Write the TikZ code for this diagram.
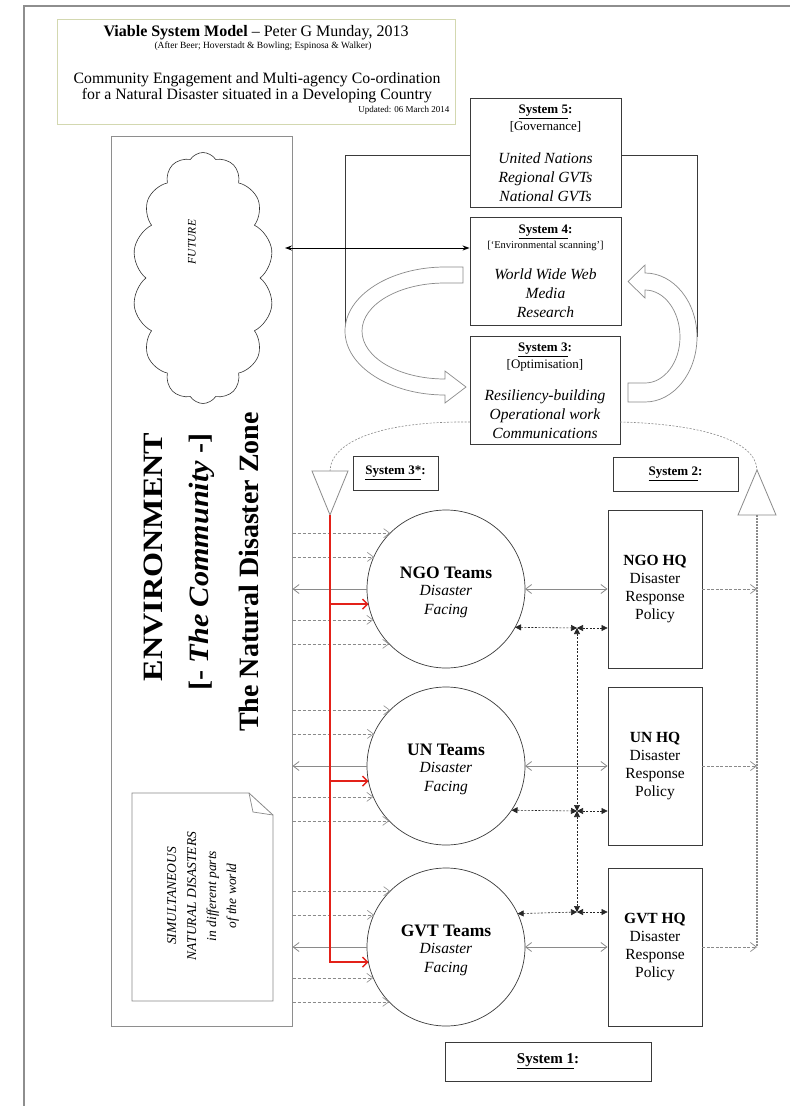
\documentclass[tikz,border=0pt]{standalone}
\usepackage{fontspec}
\setmainfont{Liberation Serif}
\usetikzlibrary{arrows.meta,shapes.symbols,calc}
\definecolor{framegray}{HTML}{8E8E8E}
\definecolor{titleedge}{HTML}{D3D8B0}
\definecolor{linegray}{HTML}{8A8A8A}
\definecolor{boxedge}{HTML}{3A3A3A}
\definecolor{flowred}{HTML}{E32119}
\newcommand{\fsz}[2]{\fontsize{#1}{#2}\selectfont}
\begin{document}
\begin{tikzpicture}[x=1pt,y=-1pt,
  >={Straight Barb[length=6pt,width=9pt]},
  sysbox/.style={draw=boxedge, line width=0.9pt, inner sep=0pt},
  hqbox/.style={draw=boxedge, line width=0.9pt, inner sep=0pt, minimum width=94pt, minimum height=158pt, align=center, font=\fsz{15.5}{18.3}},
  teams/.style={circle, draw=boxedge, line width=0.7pt, minimum size=158pt, inner sep=0pt, outer sep=0pt},
  teamname/.style={font=\fsz{17.5}{19}\bfseries},
  teamrole/.style={align=center, font=\fsz{15.5}{19}\itshape},
  hdr/.style={font=\fsz{13}{15}\bfseries},
  sub/.style={font=\fsz{13}{15}},
  lst/.style={align=center, font=\fsz{15.5}{19}\itshape},
  feed/.style={draw=linegray, line width=0.6pt, dash pattern=on 3pt off 2pt, ->},
  back/.style={draw=linegray, line width=0.8pt, ->},
  twoway/.style={draw=linegray, line width=0.8pt, <->},
  coordln/.style={draw=black!85, line width=0.6pt, dash pattern=on 2pt off 1.5pt,
    {Triangle[length=6pt,width=6pt]}-{Triangle[length=6pt,width=6pt]}},
  audit/.style={draw=flowred, line width=1.4pt},
  auditarr/.style={audit, -{Straight Barb[length=5pt,width=10pt]}},
  report/.style={draw=linegray, line width=0.7pt, dash pattern=on 3pt off 1.5pt, ->},
  monitor/.style={draw=linegray, line width=1.4pt, dash pattern=on 2pt off 1pt},
  arcline/.style={draw=linegray, line width=0.6pt, dash pattern=on 2pt off 1.5pt},
  blockarrow/.style={draw=linegray, line width=0.7pt, fill=white},
  tri/.style={draw=linegray, line width=0.8pt, fill=white},
  link/.style={draw=boxedge, line width=0.8pt}
]
\fill[white] (0,0) rectangle (790,1106);
\useasboundingbox (0,0) rectangle (790,1106);

% page frame
\draw[framegray, line width=1.2pt] (24,1106) -- (24,6) -- (790,6);

% title block
\node[draw=titleedge, line width=1pt, minimum width=398pt, minimum height=105pt, inner sep=0pt] (titlebox) at (256,71.5) {};
\node (t1) at (256,33) {\fsz{16}{18}\textbf{Viable System Model} – Peter G Munday, 2013};
\node (t2) at (263,46) {\fsz{9.5}{11}(After Beer; Hoverstadt \& Bowling; Espinosa \& Walker)};
\node (t3) at (257,80) {\fsz{15.8}{17}Community Engagement and Multi-agency Co-ordination};
\node (t4) at (257,96) {\fsz{15.8}{17}for a Natural Disaster situated in a Developing Country};
\node[anchor=east] (t5) at (453,110) {\fsz{9}{10}Updated: 06 March 2014};

% environment
\node[draw=framegray, line width=1pt, minimum width=181pt, minimum height=890pt, inner sep=0pt] (env) at (201.5,581) {};
\node[cloud, cloud puffs=14, cloud puff arc=115, draw=black!80, line width=0.6pt, minimum width=141pt, minimum height=251pt, inner sep=0pt] (cloud) at (203,278) {};
\node[rotate=90] (future) at (192,242) {\fsz{11.5}{13}\itshape FUTURE};
\node[rotate=90] (envname) at (153,557) {\fsz{28}{30}\bfseries\scalebox{1.15}[1]{ENVIRONMENT}};
\node[rotate=90] (community) at (202,562) {\fsz{28}{30}\bfseries\scalebox{1.08}[1]{[- \textit{The Community} -]}};
\node[rotate=90] (zone) at (249,572) {\fsz{28}{30}\bfseries The Natural Disaster Zone};

% note: simultaneous disasters
\draw[draw=linegray, line width=0.8pt, fill=white] (132,793) -- (249,793) -- (273,815) -- (273,1001) -- (132,1001) -- cycle;
\draw[draw=linegray, line width=0.7pt] (249,793) -- (253,812) -- (273,815);
\node[rotate=90, align=center, font=\fsz{13.5}{20}\itshape] (note) at (203,896) {SIMULTANEOUS\\NATURAL DISASTERS\\in different parts\\of the world};

% systems 5, 4, 3
\node[sysbox, minimum width=151pt, minimum height=109pt] (s5) at (545.5,152.5) {};
\node[hdr] (s5h) at (545.5,112) {\underline{System 5}:};
\node[sub] (s5s) at (545.5,127) {[Governance]};
\node[lst] (s5t) at (545.5,177) {United Nations\\Regional GVTs\\National GVTs};

\node[sysbox, minimum width=151pt, minimum height=108pt] (s4) at (545.5,271) {};
\node[hdr] (s4h) at (545.5,232) {\underline{System 4}:};
\node[font=\fsz{10.5}{12}] (s4s) at (545.5,246) {[‘Environmental scanning’]};
\node[lst] (s4t) at (545.5,293) {World Wide Web\\Media\\Research};

\node[sysbox, minimum width=150pt, minimum height=108pt] (s3) at (545,390) {};
\node[hdr] (s3h) at (545,350) {\underline{System 3}:};
\node[sub] (s3s) at (545,365) {[Optimisation]};
\node[lst] (s3t) at (545,414) {Resiliency-building\\Operational work\\Communications};

% system 5 bracket
\coordinate (s5right) at (697,155);
\coordinate (s5left) at (345,155);
\coordinate (rout) at (697,337);
\coordinate (lout) at (345,331);
\draw[link] (s5.east |- s5right) -- (s5right) -- (rout);
\draw[link] (s5.west |- s5left) -- (s5left) -- (lout);

% curved block arrows between systems 4 and 3
\path[blockarrow] (463,267) -- (445,267) .. controls (390,267) and (345,295.7) .. (345,331)
  .. controls (345,366.3) and (390,395) .. (445,395) -- (445,403) -- (466,387) -- (445,371) -- (445,379)
  .. controls (399,379) and (362,357.5) .. (362,331) .. controls (362,304.5) and (399,283) .. (445,283)
  -- (463,283) -- cycle;
\path[blockarrow] (628,402) -- (645,402) .. controls (673.7,402) and (697,372.9) .. (697,337)
  .. controls (697,301.7) and (673.7,273) .. (645,273) -- (645,265) -- (628,281.5) -- (645,298) -- (645,290)
  .. controls (664.3,290) and (680,311) .. (680,337) .. controls (680,362.4) and (664.3,383) .. (645,383)
  -- (628,383) -- cycle;

% environmental scanning
\coordinate (fut) at (285,248);
\draw[line width=0.9pt, {Stealth[length=7pt,width=5pt]}-{Stealth[length=7pt,width=5pt]}] (fut) -- (fut -| s4.west);

% system 3* and system 2 channels
\coordinate (t3top) at (330,471);
\coordinate (t3apex) at (330,515);
\coordinate (t2apex) at (757,470);
\coordinate (t2base) at (757,515);
\coordinate (s3l) at (470,422);
\coordinate (s3r) at (620,422);
\draw[arcline] (s3l) .. controls (385,421) and (331,440) .. (t3top);
\draw[arcline] (s3r) .. controls (700,424) and (756,440) .. (t2apex);
\draw[tri] (312,471) -- (348,471) -- (t3apex) -- cycle;
\draw[tri] (738,515) -- (776,515) -- (t2apex) -- cycle;
\node[sysbox, minimum width=85pt, minimum height=34pt] (s3star) at (395.5,473) {\fsz{13}{15}\bfseries\underline{System 3*}:};
\node[sysbox, minimum width=125pt, minimum height=34pt] (s2) at (675.5,474) {\fsz{13}{15}\bfseries\underline{System 2}:};

% operational units
\node[teams] (ngo) at (446,589) {};
\node[teams] (un) at (446,766) {};
\node[teams] (gvt) at (446,947) {};
\node[teamname] (ngon) at (446,573) {NGO Teams};
\node[teamrole] (ngor) at (446,601.5) {Disaster\\Facing};
\node[teamname] (unn) at (446,750) {UN Teams};
\node[teamrole] (unr) at (446,778.5) {Disaster\\Facing};
\node[teamname] (gvtn) at (446,931) {GVT Teams};
\node[teamrole] (gvtr) at (446,959.5) {Disaster\\Facing};

\node[hqbox] (ngohq) at (655,589) {\textbf{NGO HQ}\\Disaster\\Response\\Policy};
\node[hqbox] (unhq) at (655,766) {\textbf{UN HQ}\\Disaster\\Response\\Policy};
\node[hqbox] (gvthq) at (655,947) {\textbf{GVT HQ}\\Disaster\\Response\\Policy};

\node[sysbox, minimum width=206pt, minimum height=39pt] (s1) at (548,1061.5) {\fsz{15}{17}\bfseries\underline{System 1}:};

% environment <-> operations
\foreach \u in {ngo,un,gvt}{
  \draw[feed] (env.east |- \u.135.9) -- (\u.135.9);
  \draw[feed] (env.east |- \u.156.1) -- (\u.156.1);
  \draw[feed] (env.east |- \u.203.9) -- (\u.203.9);
  \draw[feed] (env.east |- \u.224.1) -- (\u.224.1);
  \draw[back] (\u.west) -- (env.east |- \u.west);
}

% system 3* audit channel
\draw[audit] (t3apex) |- (gvt.191.7);
\draw[auditarr] (t3apex |- gvt.191.7) -- (gvt.191.7);
\draw[auditarr] (t3apex |- ngo.191.7) -- (ngo.191.7);
\draw[auditarr] (t3apex |- un.191.7) -- (un.191.7);

% operations <-> management
\draw[twoway] (ngo.east) -- (ngohq.west);
\draw[twoway] (un.east) -- (unhq.west);
\draw[twoway] (gvt.east) -- (gvthq.west);

% system 2 coordination
\coordinate (jn1) at (577,628);
\coordinate (jn2) at (577,811);
\coordinate (jn3) at (577,912);
\draw[coordln] (ngo.-29.6) -- (jn1);
\draw[coordln] (jn1) -- (jn1 -| ngohq.west);
\draw[coordln] (un.-34.7) -- (jn2);
\draw[coordln] (jn2) -- (jn2 -| unhq.west);
\draw[coordln] (gvt.25.5) -- (jn3);
\draw[coordln] (jn3) -- (jn3 -| gvthq.west);
\draw[coordln] (jn1) -- (jn2);
\draw[coordln] (jn2) -- (jn3);

% reporting to system 2
\draw[monitor] (t2base) -- (t2base |- gvthq.east);
\draw[report] (ngohq.east) -- (t2base |- ngohq.east);
\draw[report] (unhq.east) -- (t2base |- unhq.east);
\draw[report] (gvthq.east) -- (t2base |- gvthq.east);
\end{tikzpicture}
\end{document}
